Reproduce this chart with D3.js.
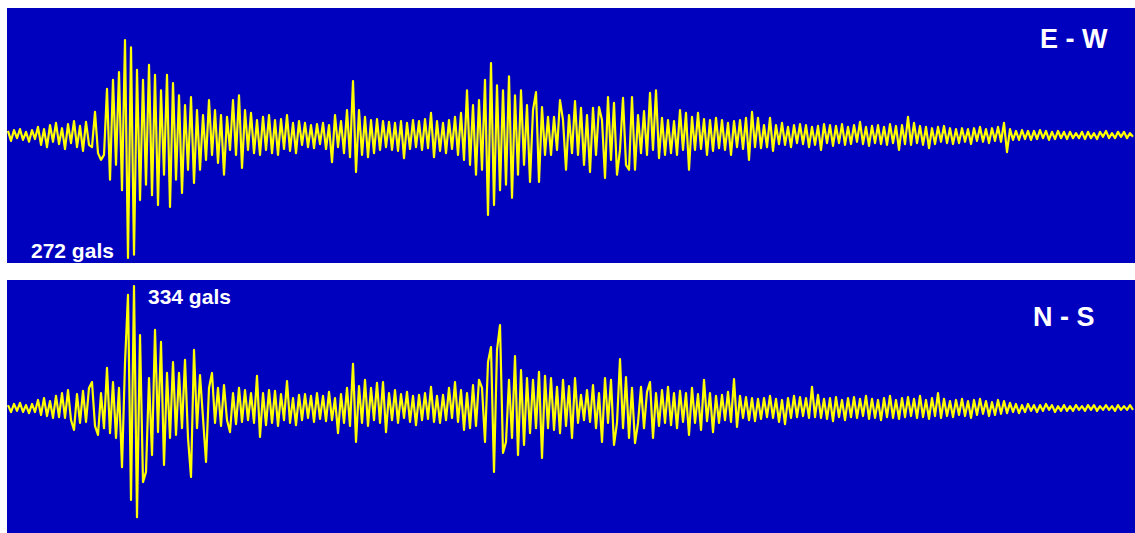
<!DOCTYPE html>
<html>
<head>
<meta charset="utf-8">
<script src="https://cdn.jsdelivr.net/npm/d3@7"></script>
<style>
  html, body { margin: 0; padding: 0; background: #ffffff; }
  svg { display: block; }
</style>
</head>
<body>
<svg id="chart" width="1135" height="533"></svg>
<script>
// ---- Data (acceleration in gals) ----
const panelLabels = ["E - W", "N - S"];
const peakLabels = ["272 gals", "334 gals"];

const ewAccel = [
  9,-13,11,-7,13,-11,7,-15,11,-9,
  18,-22,13,-27,22,-15,27,-20,15,-31,
  24,-18,31,-27,20,-35,29,-22,-27,51,
  -40,-55,-44,102,-99,122,-66,139,-122,210,
  -272,194,-265,144,-144,122,-110,155,-133,133,
  -155,99,-88,133,-159,115,-99,88,-128,66,
  -77,84,-106,55,-77,44,-55,77,-44,55,
  -62,44,-88,40,-33,77,-44,88,-73,55,
  -33,49,-40,33,-44,40,-33,44,-40,33,
  -44,35,-31,44,-35,27,-40,31,-22,27,
  -27,22,-29,24,-20,27,-31,22,-60,44,
  -27,31,-40,55,-49,119,-82,55,-44,40,
  -49,33,-40,35,-33,31,-27,29,-33,27,
  -35,31,-51,27,-31,33,-27,31,-33,35,
  -29,49,-49,31,-35,27,-40,33,-31,40,
  -44,49,-55,99,-66,66,-88,77,-77,122,
  -177,159,-155,110,-122,99,-110,130,-139,88,
  -88,99,-66,66,-104,55,95,-104,62,-44,
  40,-44,40,-33,77,33,-77,44,-40,75,
  -44,60,-66,44,-82,60,-44,62,33,-95,
  84,-55,71,-88,-33,82,-66,-77,84,-77,
  44,-40,53,-44,93,-33,99,-51,38,-44,
  33,-40,31,-44,55,-33,49,-77,40,-33,
  49,-31,35,-44,33,-35,38,-29,33,-33,
  27,-44,31,-27,33,-31,38,-55,51,-27,
  38,-29,22,-27,38,-35,22,-20,27,-22,
  18,-27,22,-18,24,-20,22,-27,18,-22,
  20,-33,24,-18,22,-24,20,-18,24,-22,
  18,-20,22,-15,29,-20,18,-24,20,-18,
  22,-20,18,-22,24,-18,20,-33,22,-20,
  40,-22,27,-18,20,-22,18,-29,15,-20,
  18,-15,20,-18,15,-20,13,-18,15,-15,
  13,-20,15,-13,18,-15,13,-18,15,-13,
  18,-15,27,-38,13,-11,9,-11,11,-9,
  9,-11,9,-9,11,-7,9,-11,7,-9,
  9,-7,7,-9,7,-7,4,-7,7,-9,
  7,-7,4,-9,7,-4,9,-7,4,-7,
  7,-4,7,-7,4,-4
];

const nsAccel = [
  8,-11,11,-8,14,-11,8,-14,11,-11,
  22,-19,27,-22,19,-27,33,-25,41,-27,
  49,-33,-60,38,-41,47,-38,55,71,-49,
  -74,41,-55,110,-69,71,-82,55,-162,123,
  310,-252,334,-299,200,-203,-175,82,-129,214,
  -66,181,-156,96,-82,126,-74,96,-55,132,
  -82,-189,159,-55,90,-27,-148,55,96,-41,
  55,-49,63,-33,-66,41,-44,55,-38,49,
  -33,41,-41,88,-79,41,-47,49,-41,47,
  -49,38,-33,74,-41,27,-47,36,-33,38,
  -27,33,-38,41,-30,33,-36,44,-33,27,
  -69,38,-41,55,-49,121,-93,60,-41,77,
  -49,55,-33,69,-41,71,-66,41,-33,49,
  -41,38,-27,44,-38,33,-47,36,-33,41,
  -30,58,-38,33,-41,36,-33,55,-27,71,
  -38,49,-60,41,-55,63,-49,77,55,-93,
  126,167,-175,159,227,-123,-93,77,-82,142,
  -129,104,-101,82,-69,77,-55,99,-137,88,
  -55,82,-60,58,-69,77,-49,60,-82,82,
  -41,36,-33,49,-38,63,-55,41,-93,82,
  -41,77,-101,-41,134,-55,85,-82,55,-96,
  -41,58,-55,44,71,-82,41,-49,49,-41,
  58,-47,41,-55,47,-38,41,-74,55,-41,
  38,-60,77,-36,41,-66,33,-41,36,-33,
  44,-38,79,-52,33,-27,30,-33,27,-36,
  25,-30,27,-25,33,-27,25,-38,22,-44,
  27,-27,33,-25,30,-22,27,-27,58,-25,
  36,-27,25,-30,27,-36,30,-25,22,-33,
  27,-25,30,-27,25,-22,33,-30,25,-27,
  22,-33,27,-25,33,-27,22,-30,27,-25,
  30,-22,25,-27,33,-25,22,-30,27,-22,
  41,-27,25,-22,19,-25,22,-19,25,-22,
  19,-27,22,-19,25,-16,19,-22,16,-19,
  22,-16,19,-14,14,-11,11,-14,8,-11,
  11,-8,8,-11,8,-8,11,-5,8,-11,
  5,-8,8,-8,5,-8,8,-5,5,-8,
  8,-5,8,-8,5,-5,8,-5,5,-8,
  8,-5,5,-5,8,-5
];

const seriesList = [ewAccel, nsAccel];
const yLimits = [281, 348];

// ---- Layout ----
const panels = [
  { top: 8, bottom: 263, base: 135 },
  { top: 280, bottom: 533, base: 408 }
];
const left = 7, right = 1135;

const svg = d3.select("#chart");

panels.forEach((p, k) => {
  const data = seriesList[k];
  const g = svg.append("g");

  g.append("rect")
    .attr("x", left).attr("y", p.top)
    .attr("width", right - left).attr("height", p.bottom - p.top)
    .attr("fill", "#0000bf");

  const x = d3.scaleLinear().domain([0, data.length - 1]).range([left + 1, right - 2]);
  const half = 127;
  const y = d3.scaleLinear().domain([-yLimits[k], yLimits[k]]).range([p.base + half, p.base - half]);

  const clipId = "clip" + k;
  g.append("clipPath").attr("id", clipId)
    .append("rect").attr("x", left).attr("y", p.top)
    .attr("width", right - left).attr("height", p.bottom - p.top);

  const line = d3.line()
    .x((d, i) => x(i))
    .y(d => y(d));

  g.append("path")
    .datum(data)
    .attr("clip-path", "url(#" + clipId + ")")
    .attr("d", line)
    .attr("fill", "none")
    .attr("stroke", "#ffff00")
    .attr("stroke-width", 2.2)
    .attr("stroke-linejoin", "round");
});

// Panel component labels
const font = "'Liberation Sans', Arial, sans-serif";
svg.append("text")
  .attr("x", 1040).attr("y", 48)
  .attr("font-family", font).attr("font-weight", "bold").attr("font-size", 27)
  .attr("fill", "#ffffff").text(panelLabels[0]);
svg.append("text")
  .attr("x", 1033).attr("y", 326)
  .attr("font-family", font).attr("font-weight", "bold").attr("font-size", 27)
  .attr("fill", "#ffffff").text(panelLabels[1]);

// Peak labels
svg.append("text")
  .attr("x", 31).attr("y", 258)
  .attr("font-family", font).attr("font-weight", "bold").attr("font-size", 21)
  .attr("fill", "#ffffff").text(peakLabels[0]);
svg.append("text")
  .attr("x", 148).attr("y", 304)
  .attr("font-family", font).attr("font-weight", "bold").attr("font-size", 21)
  .attr("fill", "#ffffff").text(peakLabels[1]);
</script>
</body>
</html>
